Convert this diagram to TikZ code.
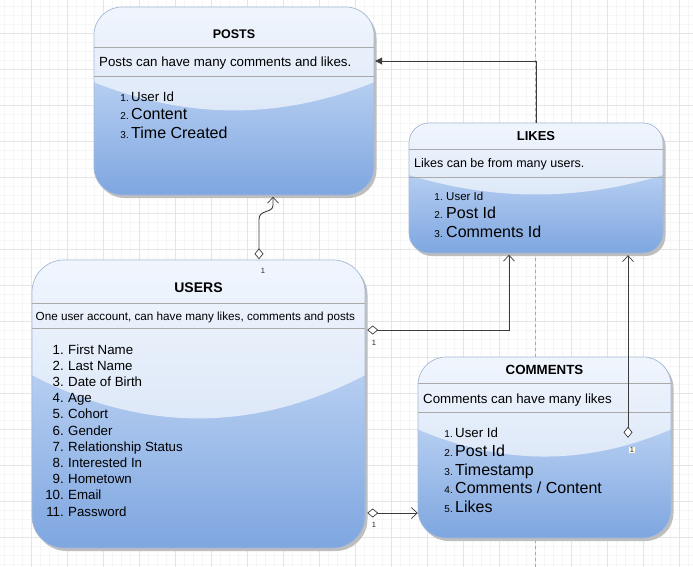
\documentclass[tikz,border=0pt]{standalone}
\usepackage{fontspec}
\setmainfont{Liberation Sans}
\usetikzlibrary{arrows.meta,fit,calc}
\definecolor{topc}{RGB}{218,232,252}
\definecolor{botc}{RGB}{126,166,224}
\definecolor{bordc}{RGB}{165,185,215}
\definecolor{shadc}{RGB}{190,190,190}
\definecolor{gmin}{RGB}{246,246,246}
\definecolor{gmaj}{RGB}{229,229,229}
\definecolor{sepc}{RGB}{170,170,170}
\definecolor{connc}{RGB}{60,60,60}
\definecolor{lblbg}{RGB}{252,250,232}
\newcommand\myfs[1]{\fontsize{#1}{#1}\selectfont}
\newcommand\erbox[6]{%
  \fill[shadc, rounded corners=#6] (#2+2.5,#3+3) rectangle (#4+2.5,#5+3);
  \node[fit={(#2,#3)(#4,#5)}, inner sep=0pt, rounded corners=#6, top color=topc, bottom color=botc, draw=none] (#1) {};
  \begin{scope}
    \clip[rounded corners=#6] (#2,#3) rectangle (#4,#5);
    \fill[white, fill opacity=0.62] (#2,#3) -- (#4,#3) -- (#4,{#3+0.4*(#5-#3)})
      .. controls ({#4-(#4-#2)/3},{#3+0.6*(#5-#3)}) and ({#2+(#4-#2)/3},{#3+0.6*(#5-#3)}) ..
      (#2,{#3+0.4*(#5-#3)}) -- cycle;
  \end{scope}
  \draw[bordc, line width=0.7pt, rounded corners=#6] (#2,#3) rectangle (#4,#5);
}
\tikzset{
  dia/.tip={Diamond[fill=white,length=11pt,width=9pt,line width=0.7pt]},
  barb/.tip={Straight Barb[length=6pt,width=11pt,line width=0.7pt]},
  blk/.tip={Triangle[length=7pt,width=7pt]}
}
\begin{document}
\begin{tikzpicture}[x=1pt,y=-1pt,
  txt/.style={inner sep=0pt, text=black},
  sepl/.style={draw=sepc, line width=0.8pt},
  conn/.style={draw=connc, line width=0.9pt},
  lbl/.style={inner sep=0.8pt, text=black!85, font=\myfs{7.5}}]
\fill[white] (0,0) rectangle (693,567);
\useasboundingbox (0,0) rectangle (693,567);
% grid
\foreach \x in {4,13,...,693} \draw[gmin, line width=0.6pt] (\x,0) -- (\x,567);
\foreach \y in {6,15,...,567} \draw[gmin, line width=0.6pt] (0,\y) -- (693,\y);
\foreach \x in {31,67,...,693} \draw[gmaj, line width=0.8pt] (\x,0) -- (\x,567);
\foreach \y in {33,69,...,567} \draw[gmaj, line width=0.8pt] (0,\y) -- (693,\y);
% page break
\draw[black!35, line width=0.7pt, dash pattern=on 3pt off 3pt] (535,0) -- (535,567);

% POSTS
\erbox{posts}{94}{7}{374}{195}{28pt}
\draw[sepl] (94,47) -- (374,47);
\draw[sepl] (94,76) -- (374,76);
\node[txt, anchor=base, font=\bfseries\myfs{12.5}] (pt) at (234,39) {POSTS};
\node[txt, anchor=base west, font=\myfs{13.3}] (pd) at (99,66.5) {Posts can have many comments and likes.};
\node[txt, anchor=base east, font=\myfs{10}] (pn1) at (129,101.7) {1.};
\node[txt, anchor=base east, font=\myfs{10}] (pn2) at (129,120) {2.};
\node[txt, anchor=base east, font=\myfs{10}] (pn3) at (129,139) {3.};
\node[txt, anchor=base west, font=\myfs{13.3}] (pi1) at (131,101.7) {User Id};
\node[txt, anchor=base west, font=\myfs{16}] (pi2) at (131,120) {Content};
\node[txt, anchor=base west, font=\myfs{16}] (pi3) at (131,139) {Time Created};

% LIKES
\erbox{likes}{409}{123}{663}{253}{20pt}
\draw[sepl] (409,149) -- (663,149);
\draw[sepl] (409,177) -- (663,177);
\node[txt, anchor=base, font=\bfseries\myfs{13}] (lt) at (536,140) {LIKES};
\node[txt, anchor=base west, font=\myfs{12.5}] (ld) at (414,167) {Likes can be from many users.};
\node[txt, anchor=base east, font=\myfs{10}] (ln1) at (443,200) {1.};
\node[txt, anchor=base east, font=\myfs{10}] (ln2) at (443,218) {2.};
\node[txt, anchor=base east, font=\myfs{10}] (ln3) at (443,237) {3.};
\node[txt, anchor=base west, font=\myfs{11.5}] (li1) at (446,200) {User Id};
\node[txt, anchor=base west, font=\myfs{16}] (li2) at (446,218) {Post Id};
\node[txt, anchor=base west, font=\myfs{16}] (li3) at (446,237) {Comments Id};

% USERS
\erbox{users}{32}{260}{365}{548}{32pt}
\draw[sepl] (32,303) -- (365,303);
\draw[sepl] (32,328) -- (365,328);
\node[txt, anchor=base, font=\bfseries\myfs{14}] (ut) at (198.5,292) {USERS};
\node[txt, anchor=base west, font=\myfs{11.7}] (ud) at (35.5,320) {One user account, can have many likes, comments and posts};
\foreach \n/\t [count=\i from 0] in {1/First Name,2/Last Name,3/Date of Birth,4/Age,5/Cohort,6/Gender,7/Relationship Status,8/Interested In,9/Hometown,10/Email,11/Password}{
  \node[txt, anchor=base east, font=\myfs{13.3}] (un\n) at (64,354+16.2*\i) {\n.};
  \node[txt, anchor=base west, font=\myfs{13.3}] (ui\n) at (68,354+16.2*\i) {\t};
}

% COMMENTS
\erbox{comments}{418}{357}{671}{538}{28pt}
\draw[sepl] (418,383) -- (671,383);
\draw[sepl] (418,412) -- (671,412);
\node[txt, anchor=base, font=\bfseries\myfs{13.3}] (ct) at (544.5,374) {COMMENTS};
\node[txt, anchor=base west, font=\myfs{13.3}] (cd) at (423,403) {Comments can have many likes};
\node[txt, anchor=base east, font=\myfs{10}] (cn1) at (453,437) {1.};
\node[txt, anchor=base east, font=\myfs{10}] (cn2) at (453,456) {2.};
\node[txt, anchor=base east, font=\myfs{10}] (cn3) at (453,475) {3.};
\node[txt, anchor=base east, font=\myfs{10}] (cn4) at (453,493.5) {4.};
\node[txt, anchor=base east, font=\myfs{10}] (cn5) at (453,512.5) {5.};
\node[txt, anchor=base west, font=\myfs{13.3}] (ci1) at (455,437) {User Id};
\node[txt, anchor=base west, font=\myfs{16}] (ci2) at (455,456) {Post Id};
\node[txt, anchor=base west, font=\myfs{16}] (ci3) at (455,475) {Timestamp};
\node[txt, anchor=base west, font=\myfs{16}] (ci4) at (455,493.5) {Comments / Content};
\node[txt, anchor=base west, font=\myfs{16}] (ci5) at (455,512.5) {Likes};

% connectors
\coordinate (s1) at ([xshift=60.5pt,yshift=0.5pt]users.north);
\coordinate (e1) at ([xshift=39pt,yshift=-1.5pt]posts.south);
\draw[conn, dia-barb] (s1) -- ($(s1)+(0,-40)$) .. controls ($(s1)+(0,-50)$) and ($(e1|-s1)+(0,-46)$) .. ($(e1|-s1)+(0,-54)$) -- (e1);

\coordinate (s2) at ([xshift=2pt,yshift=74pt]users.east);
\draw[conn, dia-barb] (s2) -| ([xshift=-27pt,yshift=-1.5pt]likes.south);

\coordinate (s3) at ([xshift=2pt,yshift=-109pt]users.east);
\draw[conn, dia-barb] (s3) -- (s3 -| comments.west);

\coordinate (s4) at ($(comments.north)+(83.5,81)$);
\draw[conn, dia-barb] (s4) -- ([yshift=-2pt]s4 |- likes.south);

\draw[conn, -blk] (likes.north) |- ([xshift=1pt,yshift=40pt]posts.east);

% labels
\node[lbl] (l1) at (263,271) {1};
\node[lbl] (l2) at (374,343) {1};
\node[lbl] (l3) at (374,525) {1};
\node[lbl, fill=lblbg] (l4) at (632,450) {1};
\end{tikzpicture}
\end{document}
